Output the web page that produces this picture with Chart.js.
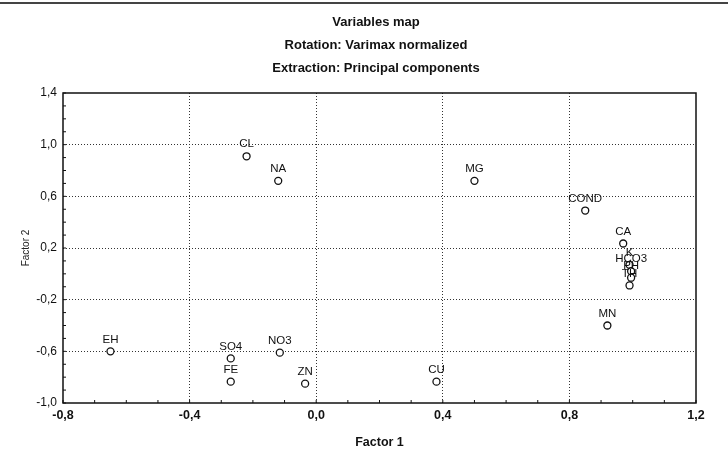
<!DOCTYPE html>
<html>
<head>
<meta charset="utf-8">
<script src="https://cdn.jsdelivr.net/npm/chart.js@4.4.1/dist/chart.umd.min.js"></script>
<style>
  html, body { margin: 0; padding: 0; background: #fff; }
  #wrap { position: relative; width: 728px; height: 469px; }
</style>
</head>
<body>
<div id="wrap"><canvas id="mapChart"></canvas></div>
<script>
// --- data ---
const varNames = ['CL', 'NA', 'MG', 'COND', 'CA', 'K', 'HCO3', 'PH', 'TH', 'MN', 'EH', 'SO4', 'NO3', 'FE', 'ZN', 'CU'];
const factor1 = [-0.22, -0.12, 0.50, 0.85, 0.97, 0.99, 0.995, 0.995, 0.99, 0.92, -0.65, -0.27, -0.115, -0.27, -0.035, 0.38];
const factor2 = [0.91, 0.72, 0.72, 0.49, 0.235, 0.07, 0.02, -0.03, -0.09, -0.40, -0.60, -0.655, -0.61, -0.835, -0.85, -0.835];
const xTicks = [-0.8, -0.4, 0.0, 0.4, 0.8, 1.2];
const yTicks = [-1.0, -0.6, -0.2, 0.2, 0.6, 1.0, 1.4];
const titleLines = ['Variables map', 'Rotation: Varimax normalized', 'Extraction: Principal components'];

const fontFam = '"Liberation Sans", Arial, sans-serif';
const fmt = v => v.toFixed(1).replace('.', ',');

// titles, frame, minor ticks and point labels
const decorPlugin = {
    id: 'decor',
    afterDraw(chart) {
        const ctx = chart.ctx;
        const area = chart.chartArea;
        const xs = chart.scales.x, ys = chart.scales.y;
        ctx.save();

        // scan line on top edge
        ctx.fillStyle = '#444';
        ctx.fillRect(0, 2, 728, 2);

        // title block
        ctx.fillStyle = '#111';
        ctx.textAlign = 'center';
        ctx.textBaseline = 'middle';
        ctx.font = 'bold 13px ' + fontFam;
        const ty = [22, 45, 68];
        titleLines.forEach((t, i) => ctx.fillText(t, 376, ty[i]));

        // frame
        ctx.strokeStyle = '#111';
        ctx.lineWidth = 1.5;
        ctx.strokeRect(area.left, area.top, area.right - area.left, area.bottom - area.top);

        // minor ticks every 0.1 along left and bottom
        ctx.lineWidth = 1;
        for (let i = 0; i <= 20; i++) {
            const v = xTicks[0] + i * 0.1;
            const px = xs.getPixelForValue(v);
            ctx.beginPath(); ctx.moveTo(px, area.bottom); ctx.lineTo(px, area.bottom - 3); ctx.stroke();
        }
        for (let i = 0; i <= 24; i++) {
            const v = yTicks[0] + i * 0.1;
            const py = ys.getPixelForValue(v);
            ctx.beginPath(); ctx.moveTo(area.left, py); ctx.lineTo(area.left + 3, py); ctx.stroke();
        }

        // point labels
        ctx.font = '11.5px ' + fontFam;
        ctx.fillStyle = '#111';
        ctx.textBaseline = 'middle';
        const meta = chart.getDatasetMeta(0);
        meta.data.forEach((pt, i) => {
            ctx.fillText(varNames[i], pt.x, pt.y - 12);
        });
        ctx.restore();
    }
};

const ctxMap = document.getElementById('mapChart').getContext('2d');
new Chart(ctxMap, {
    type: 'scatter',
    data: {
        datasets: [{
            label: 'Variables',
            data: factor1.map((x, i) => ({ x: x, y: factor2[i] })),
            pointStyle: 'circle',
            pointRadius: 3.5,
            pointBackgroundColor: '#fff',
            pointBorderColor: '#111',
            pointBorderWidth: 1.3
        }]
    },
    options: {
        responsive: true,
        maintainAspectRatio: false,
        animation: false,
        events: [],
        layout: { padding: { top: 93, right: 32, bottom: 19, left: 20 } },
        plugins: {
            legend: { display: false },
            tooltip: { enabled: false }
        },
        scales: {
            x: {
                type: 'linear',
                min: xTicks[0],
                max: xTicks[xTicks.length - 1],
                afterFit: s => { s.height = 47; },
                afterBuildTicks: s => { s.ticks = xTicks.map(v => ({ value: v })); },
                ticks: {
                    callback: v => fmt(v),
                    color: '#111',
                    font: { family: fontFam, size: 12.5, weight: 'bold' },
                    padding: 5,
                    maxRotation: 0
                },
                grid: {
                    color: ctx => (ctx.index === 0 || ctx.index === xTicks.length - 1) ? 'rgba(0,0,0,0)' : '#333',
                    lineWidth: 1,
                    drawTicks: false
                },
                border: { display: false, dash: [1, 2] },
                title: {
                    display: true,
                    text: 'Factor 1',
                    color: '#111',
                    font: { family: fontFam, size: 12.5, weight: 'bold' },
                    padding: { top: 10, bottom: 0 }
                }
            },
            y: {
                type: 'linear',
                min: yTicks[0],
                max: yTicks[yTicks.length - 1],
                afterFit: s => { s.width = 43; },
                afterBuildTicks: s => { s.ticks = yTicks.map(v => ({ value: v })); },
                ticks: {
                    callback: v => fmt(v),
                    color: '#111',
                    font: { family: fontFam, size: 12 },
                    padding: 6
                },
                grid: {
                    color: ctx => (ctx.index === 0 || ctx.index === yTicks.length - 1) ? 'rgba(0,0,0,0)' : '#333',
                    lineWidth: 1,
                    drawTicks: false
                },
                border: { display: false, dash: [1, 2] },
                title: {
                    display: true,
                    text: 'Factor 2',
                    color: '#222',
                    font: { family: fontFam, size: 10 },
                    padding: { top: 0, bottom: 0 }
                }
            }
        }
    },
    plugins: [decorPlugin]
});
</script>
</body>
</html>
